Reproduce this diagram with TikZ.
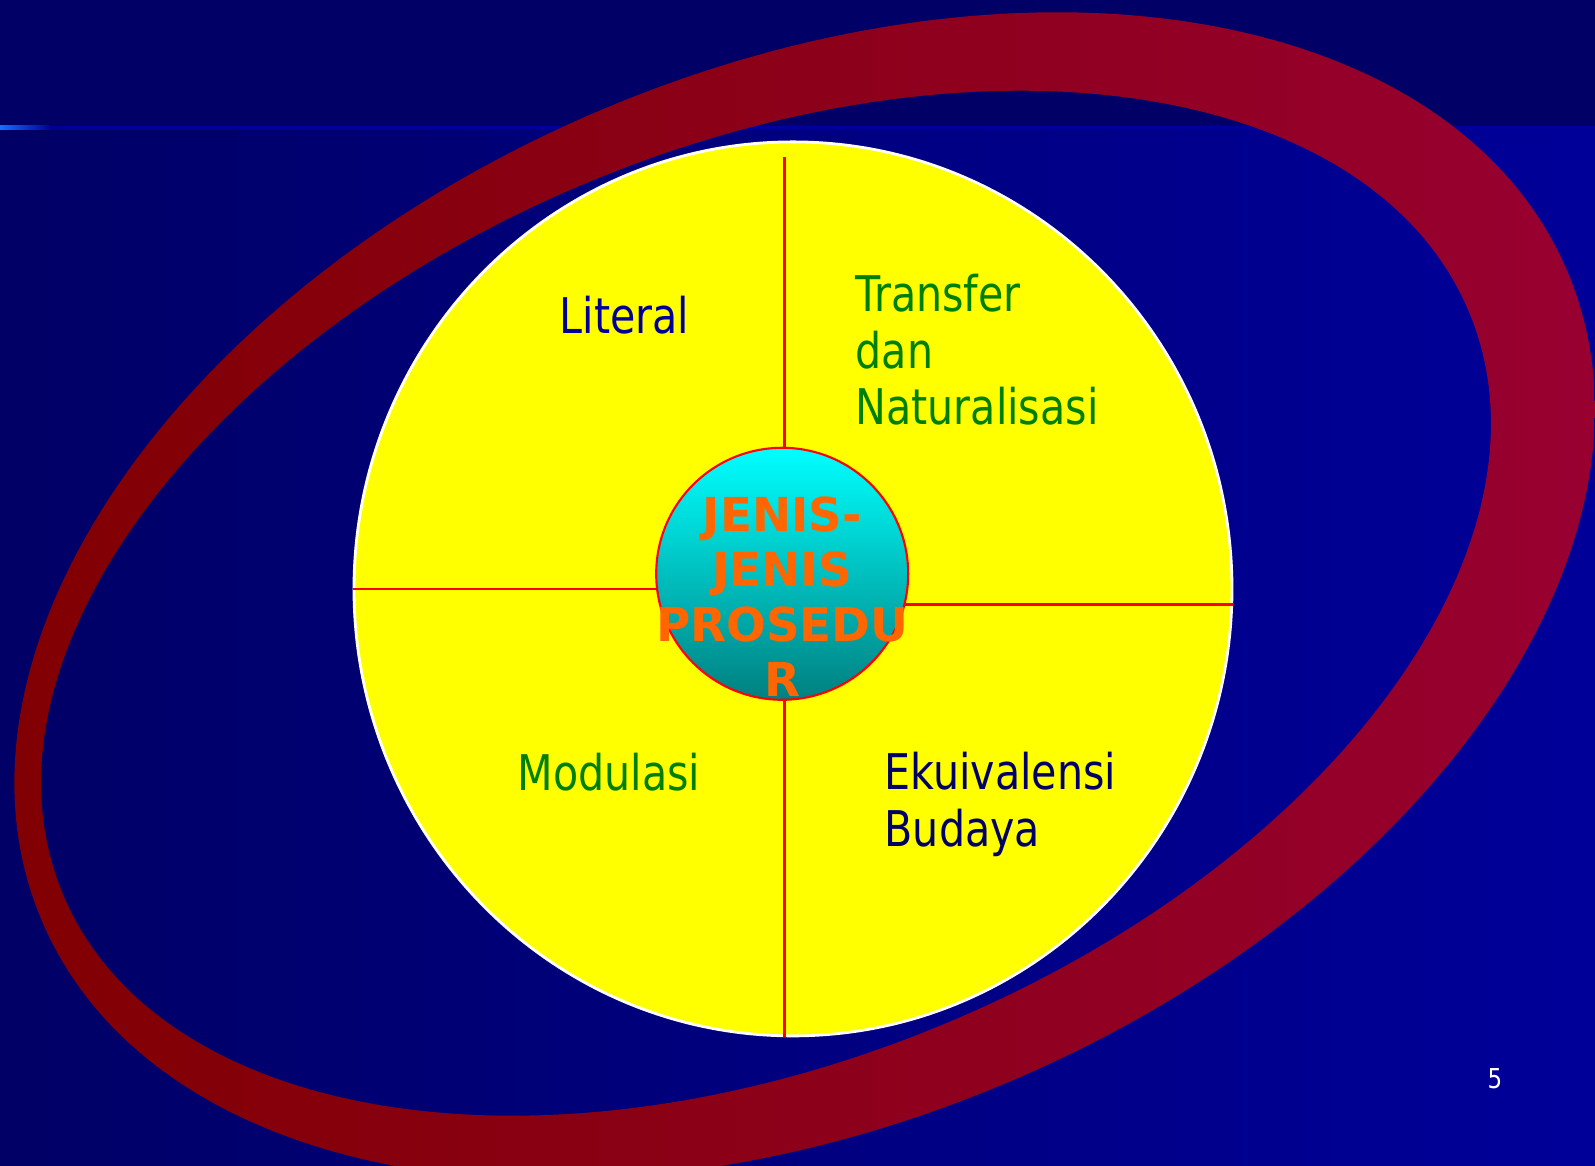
\documentclass[tikz,border=0pt]{standalone}
\usepackage{fontspec}
\newfontfamily\slidefont{DejaVu Sans Condensed}[FakeStretch=0.93]
\newfontfamily\hubfont{DejaVu Sans}
\usetikzlibrary{positioning,shapes.geometric}

\definecolor{bgtop}{RGB}{0,0,102}
\definecolor{bgright}{RGB}{0,0,153}
\definecolor{glow}{RGB}{20,110,255}
\definecolor{rimleft}{RGB}{128,0,0}
\definecolor{rimright}{RGB}{153,0,51}
\definecolor{discyellow}{RGB}{255,255,0}
\definecolor{hubtop}{RGB}{0,255,255}
\definecolor{hubbottom}{RGB}{0,128,128}
\definecolor{hubfg}{RGB}{255,102,0}
\definecolor{txtgreen}{RGB}{0,128,0}
\definecolor{txtblue}{RGB}{0,0,153}
\definecolor{txtnavy}{RGB}{0,0,102}

\begin{document}
\begin{tikzpicture}[
    quadtext/.style={font=\slidefont\fontsize{14}{16.2}\selectfont, inner sep=0pt, anchor=base west, align=left},
    hubtext/.style={font=\hubfont\bfseries\fontsize{13.3}{15.6}\selectfont, text=hubfg, inner sep=0pt, align=center},
    divider/.style={draw=red, line width=0.6pt},
    disc/.style={ellipse, fill=discyellow, draw=white, line width=0.8pt, minimum width=8.78cm, minimum height=8.94cm},
    hub/.style={circle, draw=red, line width=0.6pt, minimum size=2.52cm, inner sep=0pt, top color=hubtop, bottom color=hubbottom}
  ]
    \useasboundingbox (0,0) rectangle (15.95,11.66);
    \clip (0,0) rectangle (15.95,11.66);

    % background
    \fill[bgtop] (0,10.40) rectangle (15.95,11.66);
    \shade[left color=bgtop, right color=bgright] (0,0) rectangle (15.95,10.36);
    \fill[bgright] (0,10.36) rectangle (15.95,10.40);
    \shade[left color=glow, right color=bgright] (0,10.36) rectangle (0.5,10.40);

    % ring
    \shade[even odd rule, left color=rimleft, right color=rimright]
      (8.046,5.699) ellipse [x radius=8.29, y radius=5.27, rotate=23.1]
      (7.66,5.628) ellipse [x radius=7.61, y radius=4.57, rotate=22.4];

    \node[disc] (disc) at (7.93,5.771) {};

    \coordinate (hubc) at (7.822,5.922);
    \coordinate (topcut) at (7.845,10.093);
    \coordinate (eastcut) at (12.327,5.615);

    \draw[divider] (topcut) -- (topcut |- disc.south);
    \draw[divider] (disc.west) -- (disc.west -| hubc);
    \draw[divider] (eastcut) -- (eastcut -| hubc);

    \node[hub] (hub) at (hubc) {};
    \node[hubtext] (hublabel) at ([yshift=-0.227cm]hubc) {JENIS-\\JENIS\\PROSEDU\\R};

    \node[quadtext, text=txtblue] (literal) at (5.59,8.32) {Literal};
    \node[quadtext, text=txtgreen] (transfer) at (8.55,7.41) {Transfer\\dan\\Naturalisasi};
    \node[quadtext, text=txtgreen] (modulasi) at (5.17,3.75) {Modulasi};
    \node[quadtext, text=txtnavy] (ekuivalensi) at (8.84,3.193) {Ekuivalensi\\Budaya};

    \node[font=\slidefont\fontsize{7.8}{9}\selectfont, text=white] (pagenum) at (14.95,0.87) {5};
  \end{tikzpicture}
\end{document}
